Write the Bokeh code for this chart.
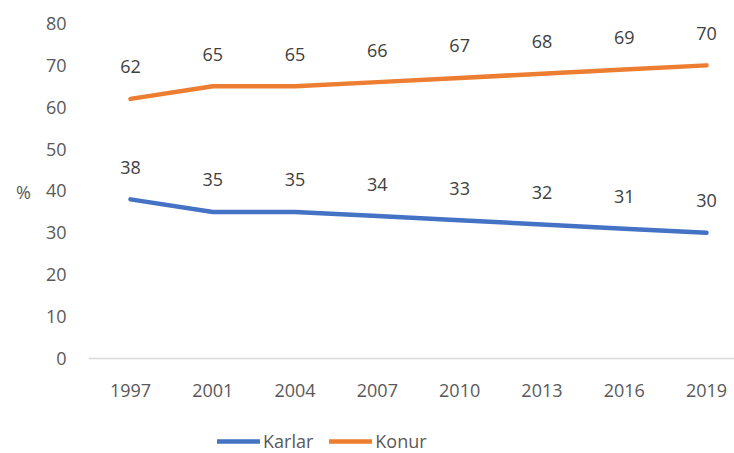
from bokeh.plotting import figure
from bokeh.models import Range1d, FixedTicker, Legend, LegendItem, ColumnDataSource, LabelSet
from bokeh.core.properties import value
from bokeh.embed import file_html
from bokeh.resources import INLINE

years = ["1997", "2001", "2004", "2007", "2010", "2013", "2016", "2019"]
karlar = [38, 35, 35, 34, 33, 32, 31, 30]
konur = [62, 65, 65, 66, 67, 68, 69, 70]

FONT = "Open Sans"
FS = "18px"
idx = list(range(len(years)))

p = figure(width=734, height=453, output_backend="svg", toolbar_location=None,
           x_range=Range1d(-0.51, 7.34), y_range=Range1d(-22.69, 80),
           min_border_left=88, min_border_right=0, min_border_top=23, min_border_bottom=0)
p.outline_line_color = None
p.grid.visible = False
p.background_fill_color = "white"

src_k = ColumnDataSource(dict(x=idx, y=karlar, t=[str(v) for v in karlar]))
src_w = ColumnDataSource(dict(x=idx, y=konur, t=[str(v) for v in konur]))

rk = p.line("x", "y", source=src_k, line_color="#4472C4", line_width=4.5, line_cap="round", line_join="round")
rw = p.line("x", "y", source=src_w, line_color="#ED7D31", line_width=4.5, line_cap="round", line_join="round")

for s in (src_k, src_w):
    p.add_layout(LabelSet(x="x", y="y", text="t", source=s, text_align="center", text_baseline="middle",
                          y_offset=32, text_font=value(FONT), text_font_size=value(FS), text_color="#404040"))

xa = p.xaxis[0]
xa.fixed_location = 0
xa.ticker = FixedTicker(ticks=idx)
xa.major_label_overrides = {i: y for i, y in zip(idx, years)}
xa.axis_line_color = "#d9d9d9"
xa.axis_line_width = 1.5
xa.major_tick_line_color = None
xa.minor_tick_line_color = None
xa.major_tick_out = 0
xa.major_label_standoff = 26
xa.major_label_text_font = FONT
xa.major_label_text_font_size = FS
xa.major_label_text_color = "#595959"

ya = p.yaxis[0]
ya.ticker = FixedTicker(ticks=list(range(0, 81, 10)))
ya.axis_line_color = None
ya.major_tick_line_color = None
ya.minor_tick_line_color = None
ya.major_tick_out = 0
ya.major_label_standoff = 22
ya.major_label_text_font = FONT
ya.major_label_text_font_size = FS
ya.major_label_text_color = "#595959"
ya.axis_label = "%\n\n\n\n"
ya.axis_label_orientation = "horizontal"
ya.axis_label_standoff = 12
ya.axis_label_text_font = FONT
ya.axis_label_text_font_size = FS
ya.axis_label_text_font_style = "normal"
ya.axis_label_text_color = "#595959"
ya.axis_label_text_line_height = 0.96

legend = Legend(items=[LegendItem(label="Karlar", renderers=[rk]), LegendItem(label="Konur", renderers=[rw])],
                orientation="horizontal", location=(129, 0), padding=0, margin=0, spacing=16,
                glyph_width=43, glyph_height=20, label_standoff=3,
                label_text_font=FONT, label_text_font_size=FS, label_text_color="#595959",
                background_fill_alpha=0, border_line_color=None)
p.add_layout(legend, "center")

open("out.html", "w").write(file_html(p, INLINE))
